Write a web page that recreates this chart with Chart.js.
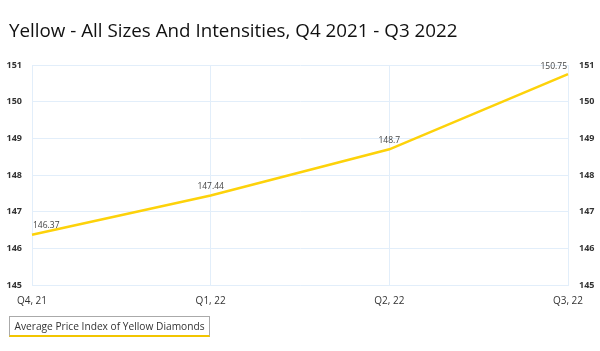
<!DOCTYPE html>
<html>
<head>
<meta charset="utf-8">
<script src="https://cdn.jsdelivr.net/npm/chart.js@4/dist/chart.umd.min.js"></script>
<style>
  body { margin: 0; background: #fff; }
  #wrap { position: relative; width: 600px; height: 351px; }
  #title {
    position: absolute; left: 9px; top: 18px;
    font: 18.8px "Open Sans", sans-serif; color: #111; line-height: 24px;
  }
  #legend {
    position: absolute; left: 9px; top: 316px; width: 199px; height: 18px;
    border: 1px solid #aaa; border-bottom: 2px solid #f2c500;
    font: 10.2px "Open Sans", sans-serif; color: #333;
    line-height: 18px; text-align: center; box-sizing: content-box;
  }
</style>
</head>
<body>
<div id="wrap">
  <canvas id="graph" width="600" height="351"></canvas>
  <div id="title">Yellow - All Sizes And Intensities, Q4 2021 - Q3 2022</div>
  <div id="legend">Average Price Index of Yellow Diamonds</div>
</div>
<script>
var quarters = ["Q4, 21", "Q1, 22", "Q2, 22", "Q3, 22"];
var priceIndex = [146.37, 147.44, 148.7, 150.75];
var yTicks = [145, 146, 147, 148, 149, 150, 151];

var gridColor = "#e2eefa";

// value labels above each point
var pointLabels = {
  id: "pointLabels",
  afterDatasetsDraw: function(chart) {
    var ctx = chart.ctx;
    var meta = chart.getDatasetMeta(0);
    ctx.save();
    ctx.font = "8.5px 'Open Sans', sans-serif";
    ctx.fillStyle = "#444";
    ctx.textBaseline = "middle";
    meta.data.forEach(function(pt, i) {
      var last = meta.data.length - 1;
      ctx.textAlign = i == 0 ? "left" : (i == last ? "right" : "center");
      var x = i == 0 ? pt.x + 1 : (i == last ? pt.x - 1 : pt.x);
      var y = Math.max(pt.y - 9, chart.chartArea.top + 2);
      ctx.fillText(String(priceIndex[i]), x, y);
    });
    ctx.restore();
  }
};

function yAxis(pos, pad) {
  return {
    position: pos,
    min: 145,
    max: 151,
    afterBuildTicks: function(scale) {
      scale.ticks = yTicks.map(function(v) { return {value: v}; });
    },
    afterFit: function(scale) { scale.width = 32; },
    grid: { display: pos == "left", color: gridColor, drawTicks: false },
    border: { color: gridColor },
    ticks: {
      padding: pad,
      color: "#333",
      font: { family: "'Open Sans', sans-serif", size: 9, weight: "bold" }
    }
  };
}

new Chart("graph", {
  type: "line",
  data: {
    labels: quarters,
    datasets: [{
      data: priceIndex,
      borderColor: "#fdd20a",
      borderWidth: 2.5,
      pointRadius: 0,
      tension: 0,
      yAxisID: "y"
    }]
  },
  options: {
    responsive: false,
    animation: false,
    layout: { padding: { top: 65, bottom: 34 } },
    plugins: {
      legend: { display: false },
      tooltip: { enabled: false }
    },
    scales: {
      x: {
        grid: { color: gridColor, drawTicks: false },
        border: { color: gridColor },
        ticks: {
          padding: 10,
          color: "#333",
          maxRotation: 0,
          font: { family: "'Open Sans', sans-serif", size: 10 }
        }
      },
      y: yAxis("left", 10),
      y2: yAxis("right", 11)
    }
  },
  plugins: [pointLabels]
});
</script>
</body>
</html>
